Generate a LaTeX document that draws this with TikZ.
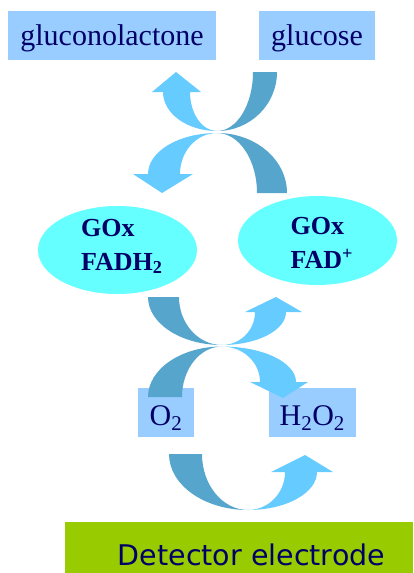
\documentclass[tikz,border=0pt]{standalone}
\usepackage{fontspec}
\setmainfont{Liberation Serif}
\newfontfamily\detfont{DejaVu Sans}
\usetikzlibrary{shapes.geometric}
\definecolor{boxblue}{HTML}{99CCFF}
\definecolor{darkband}{HTML}{55A5CC}
\definecolor{lightband}{HTML}{66CCFF}
\definecolor{cyanell}{HTML}{66FFFF}
\definecolor{electrode}{HTML}{99CC00}
\definecolor{navy}{HTML}{000066}
\begin{document}
\begin{tikzpicture}[x=1pt,y=-1pt,
  chem/.style={fill=boxblue, text=navy, inner sep=0pt, font=\fontsize{30}{36}\selectfont},
  enzyme/.style={ellipse, fill=cyanell, inner sep=0pt},
  enztext/.style={anchor=base west, inner sep=0pt, text=navy, font=\fontsize{26}{30}\selectfont\bfseries},
  darkbandfill/.style={fill=darkband},
  lightbandfill/.style={fill=lightband}]
\useasboundingbox (0,0) rectangle (413,573);
\fill[white] (0,0) rectangle (413,573);
% substrate / product boxes
\node[chem, minimum width=208pt, minimum height=49pt, text height=22pt, text depth=2pt] (glucono) at (112,35.5) {gluconolactone};
\node[chem, minimum width=116pt, minimum height=49pt, text height=22pt, text depth=2pt] (glucose) at (317,35.5) {glucose};
\node[chem, minimum width=56pt, minimum height=49pt, text height=26pt, text depth=1.6pt] (oxygen) at (166,412.8) {O\textsubscript{2}};
\node[chem, minimum width=87pt, minimum height=49pt, text height=26pt, text depth=1.6pt] (peroxide) at (312.3,412.8) {H\textsubscript{2}O\textsubscript{2}};
% enzyme ellipses
\node[enzyme, minimum width=159pt, minimum height=88pt] (gred) at (117.5,250) {};
\node[enzyme, minimum width=159pt, minimum height=89pt] (gox) at (317.5,240.5) {};
\node[enztext] (gredA) at (81,236.7) {GOx};
\node[enztext] (gredB) at (81,270) {FADH\textsubscript{2}};
\node[enztext] (goxA) at (290.5,234.5) {GOx};
\node[enztext] (goxB) at (290.5,268.5) {FAD\textsuperscript{+}};
% electrode
\fill[electrode] (65,522) rectangle (413,573);
\node[anchor=base, inner sep=0pt, text=navy, font=\detfont\fontsize{28.5}{34}\selectfont] (electrodeText) at (251.5,565) {Detector electrode};
% ---- top X ----
\path[darkbandfill] (253,72) arc[start angle=0,end angle=90,x radius=36,y radius=59]
  arc[start angle=90,end angle=0,x radius=60,y radius=59] -- cycle;
\path[darkbandfill] (217,133) arc[start angle=-90,end angle=0,x radius=40,y radius=60]
  -- (287,193) arc[start angle=0,end angle=-90,x radius=70,y radius=60] -- cycle;
\path[lightbandfill] (217,131) arc[start angle=90,end angle=180,x radius=27,y radius=39]
  -- (201,92) -- (176,72) -- (152,92) -- (163,92)
  arc[start angle=180,end angle=90,x radius=54,y radius=39] -- cycle;
\path[lightbandfill] (217,133) arc[start angle=-90,end angle=-180,x radius=37,y radius=41]
  -- (193,174) -- (162,193) -- (133,174) -- (148,174)
  arc[start angle=180,end angle=270,x radius=69,y radius=41] -- cycle;
% ---- middle X ----
\path[darkbandfill] (179,297) arc[start angle=180,end angle=90,x radius=43,y radius=48]
  arc[start angle=90,end angle=180,x radius=74,y radius=48] -- cycle;
\path[darkbandfill] (222,346.5) arc[start angle=-90,end angle=-180,x radius=40,y radius=50.5]
  -- (148,397) arc[start angle=180,end angle=270,x radius=74,y radius=50.5] -- cycle;
\path[lightbandfill] (222,345) arc[start angle=90,end angle=0,x radius=33,y radius=33]
  -- (245,312) -- (276,297) -- (302,312) -- (286,312)
  arc[start angle=0,end angle=90,x radius=64,y radius=33] -- cycle;
\path[lightbandfill] (222,346.5) arc[start angle=-90,end angle=0,x radius=38,y radius=35.5]
  -- (250,382) -- (283,398) -- (308,382) -- (296,382)
  arc[start angle=0,end angle=-90,x radius=74,y radius=35.5] -- cycle;
% ---- bottom cycle ----
\path[darkbandfill] (202,454) arc[start angle=180,end angle=90,x radius=46,y radius=56]
  arc[start angle=90,end angle=180,x radius=79,y radius=56] -- cycle;
\path[lightbandfill] (248,510) arc[start angle=90,end angle=0,x radius=37,y radius=38]
  -- (271,472) -- (305,455) -- (333,472) -- (317,472)
  arc[start angle=0,end angle=90,x radius=69,y radius=38] -- cycle;
\end{tikzpicture}
\end{document}
